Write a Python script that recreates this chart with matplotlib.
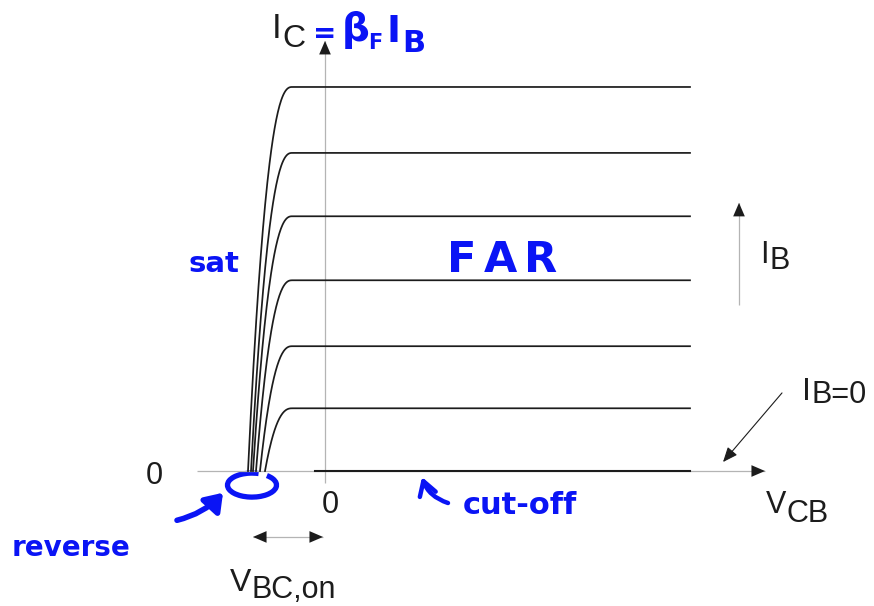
#!/usr/bin/env python
# plot.py - BJT output characteristics (I_C vs V_CB) with hand annotations
import numpy as np
import matplotlib
matplotlib.use("Agg")
import matplotlib.pyplot as plt
from matplotlib.patches import Arc

# ---- data (V_CB in V, I_C in arbitrary units) ----
ic_levels = [0.98, 1.95, 2.98, 3.98, 4.97, 6.00]      # flat I_C per I_B step
v_start = [-0.60, -0.65, -0.69, -0.72, -0.74, -0.77]  # where each curve leaves 0
v_knee = -0.33
v_end = 3.65
cutoff_v = [-0.10, 3.65]   # I_B = 0 curve
v_bc_on = 0.72

INK = "#1c1c1c"
GRAY = "#b4b4b4"
BLUE = "#0a14f5"
SANS = "Liberation Sans"
HAND = "DejaVu Sans"


def curve(v0, level, p=2.4):
    # saturation region rounds off into the flat active region at v_knee
    v = np.linspace(v0, v_end, 800)
    x = np.clip((v - v0) / (v_knee - v0), 0, 1)
    return v, level * (1 - (1 - x) ** p)


def gray_arrow(ax, x0, y0, x1, y1, both=False):
    ax.plot([x0, x1], [y0, y1], color=GRAY, lw=0.9, solid_capstyle="butt")
    ends = [((x1, y1), (x0, y0))]
    if both:
        ends.append(((x0, y0), (x1, y1)))
    for tip, tail in ends:
        ax.annotate("", xy=tip, xytext=tail,
                    arrowprops=dict(arrowstyle="-|>,head_length=0.65,head_width=0.28",
                                    color=INK, lw=0, shrinkA=0, shrinkB=0,
                                    mutation_scale=15))


def label(ax, x, y, parts, **kw):
    # parts: (text, gap_pt, drop_pt, size) drawn left to right on one baseline
    prev = None
    for s, gap, drop, size in parts:
        if prev is None:
            prev = ax.text(x, y, s, ha="left", va="baseline", fontsize=size, **kw)
        else:
            prev = ax.annotate(s, xy=(1, y), xycoords=(prev, "data"),
                               xytext=(gap, -drop), textcoords="offset points",
                               ha="left", va="baseline", fontsize=size, **kw)
    return prev


fig = plt.figure(figsize=(8.74, 6.06), dpi=100)
ax = fig.add_axes([0, 0, 1, 1])
ax.set_xlim(-3.25, 5.49)
ax.set_ylim(-2.109, 7.359)
ax.axis("off")

# axes
gray_arrow(ax, 0, -0.19, 0, 6.72)
gray_arrow(ax, -1.28, 0, 4.40, 0)

# characteristics
for v0, lvl in zip(v_start, ic_levels):
    v, i = curve(v0, lvl)
    ax.plot(v, i, color=INK, lw=1.25)
ax.plot(cutoff_v, [0, 0], color=INK, lw=1.5)

# I_B direction arrow and I_B = 0 pointer
gray_arrow(ax, 4.14, 2.59, 4.14, 4.19)
ax.annotate("", xy=(3.98, 0.14), xytext=(4.57, 1.22),
            arrowprops=dict(arrowstyle="-|>,head_length=0.6,head_width=0.25",
                            color=INK, lw=0.8, shrinkA=0, shrinkB=0, mutation_scale=15))

# V_BC,on span
gray_arrow(ax, -v_bc_on, -1.03, -0.02, -1.03, both=True)

# black labels
tk = dict(color=INK, family=SANS)
label(ax, -0.53, 6.77, [("I", 0, 0, 25), ("C", 0.5, 6.5, 23)], **tk)
label(ax, 4.35, 3.25, [("I", 0, 0, 22), ("B", 0.5, 4.5, 22)], **tk)
label(ax, 4.77, 1.11, [("I", 0, 0, 23), ("B=0", 0.5, 2.5, 22)], **tk)
label(ax, 4.41, -0.66, [("V", 0, 0, 22), ("CB", 0.3, 6, 22)], **tk)
label(ax, -0.95, -1.87, [("V", 0, 0, 23), ("BC,on", 0.3, 5, 22)], **tk)
ax.text(-1.71, -0.078, "0", ha="center", va="center", fontsize=22, **tk)
ax.text(0.05, -0.53, "0", ha="center", va="center", fontsize=22, **tk)

# hand annotations
hk = dict(color=BLUE, family=HAND, fontweight="bold")
label(ax, -0.12, 6.70, [("=", 0, 0, 20), ("β", 4, -1, 28), ("F", -1, 5, 15),
                        ("I", 3, 0, 27), ("B", 1, 7, 22)], **hk)
ax.text(-1.37, 3.11, "sat", ha="left", va="baseline", fontsize=21, **hk)
label(ax, 1.22, 3.11, [("F", 0, 0, 31), ("A", 5, 0, 31), ("R", 5, 0, 31)], **hk)
ax.text(-3.13, -1.33, "reverse", ha="left", va="baseline", fontsize=20, **hk)
ax.text(1.38, -0.67, "cut-off", ha="left", va="baseline", fontsize=22, **hk)

ax.add_patch(Arc((-0.73, -0.22), 0.49, 0.375, theta1=70, theta2=405,
                 color=BLUE, lw=3.8))
ax.annotate("", xy=(-1.02, -0.34), xytext=(-1.48, -0.77),
            arrowprops=dict(arrowstyle="-|>,head_length=0.5,head_width=0.35",
                            color=BLUE, lw=4, shrinkA=0, shrinkB=0,
                            mutation_scale=20, connectionstyle="arc3,rad=0.15"))
ax.annotate("", xy=(0.97, -0.094), xytext=(1.23, -0.50),
            arrowprops=dict(arrowstyle="->,head_length=0.5,head_width=0.3",
                            color=BLUE, lw=3.2, shrinkA=0, shrinkB=0,
                            mutation_scale=20, connectionstyle="arc3,rad=-0.25"))

fig.savefig("out.png", dpi=100)
